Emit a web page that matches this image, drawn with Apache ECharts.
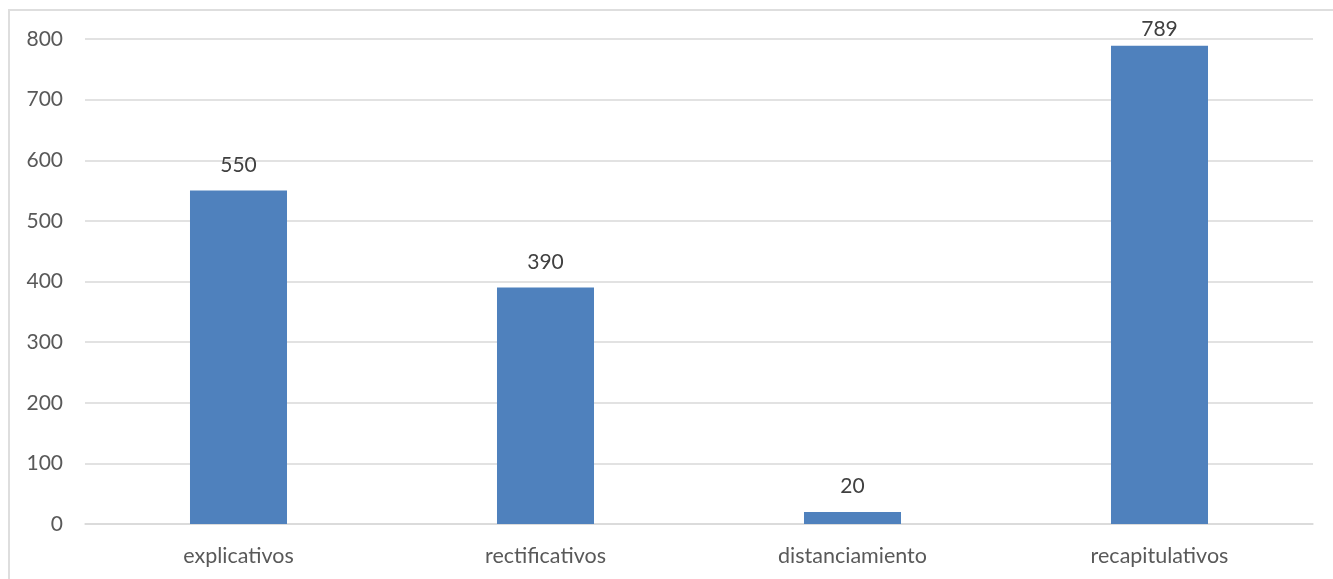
<!DOCTYPE html>
<html>
<head>
<meta charset="utf-8">
<script src="https://cdn.jsdelivr.net/npm/echarts@6/dist/echarts.min.js"></script>
<style>
  html, body { margin: 0; padding: 0; background: #fff; overflow: hidden; }
  #frame { position: absolute; left: 8px; top: 9px; width: 1400px; height: 700px;
           border-left: 2px solid #dedede; border-top: 2px solid #dedede; box-sizing: border-box; }
  #chart { position: absolute; left: 0; top: 0; width: 1333px; height: 579px; }
</style>
</head>
<body>
<div id="frame"></div>
<div id="chart"></div>
<script>
// Categories and counts for each connector type
const categories = ['explicativos', 'rectificativos', 'distanciamiento', 'recapitulativos'];
const counts = [550, 390, 20, 789];
const yTicks = [0, 100, 200, 300, 400, 500, 600, 700, 800];

const chart = echarts.init(document.getElementById('chart'), null, { renderer: 'canvas' });
const font = 'Lato, "Open Sans", sans-serif';
const peak = Math.max(...counts);

chart.setOption({
  animation: false,
  grid: { left: 85, right: 20, top: 39, bottom: 55, containLabel: false },
  xAxis: {
    type: 'category',
    data: categories,
    axisLine: { show: true, lineStyle: { color: '#d9d9d9', width: 1.5 } },
    axisTick: { show: false },
    axisLabel: { color: '#595959', fontSize: 21.5, fontFamily: font, margin: 21 }
  },
  yAxis: {
    type: 'value',
    min: yTicks[0],
    max: yTicks[yTicks.length - 1],
    interval: 100,
    axisLine: { show: false },
    axisTick: { show: false },
    axisLabel: { color: '#595959', fontSize: 21, fontFamily: font, margin: 22 },
    splitLine: { lineStyle: { color: '#d9d9d9', width: 1.5 } }
  },
  series: [{
    type: 'bar',
    // the tallest bar's label sits closer so it stays inside the frame
    data: counts.map(v => v === peak ? { value: v, label: { distance: 6 } } : v),
    barWidth: '31.6%',
    itemStyle: { color: '#4f81bd' },
    label: {
      show: true,
      position: 'top',
      distance: 15,
      color: '#404040',
      fontSize: 21,
      fontFamily: font
    }
  }]
});
</script>
</body>
</html>
